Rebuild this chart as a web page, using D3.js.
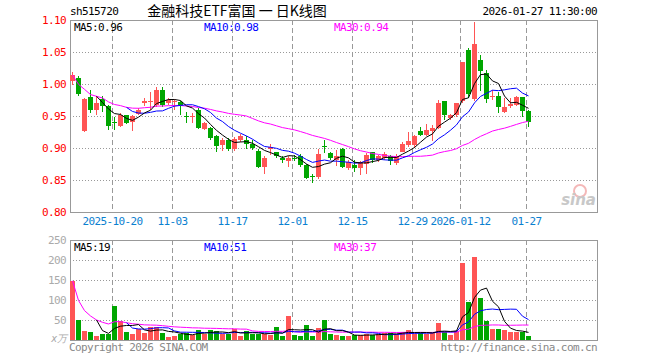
<!DOCTYPE html>
<html>
<head>
<meta charset="utf-8">
<script src="https://cdn.jsdelivr.net/npm/d3@7"></script>
<style>
body { margin: 0; background: #fff; }
text { font-family: "DejaVu Sans Mono", monospace; font-size: 11px; letter-spacing: -0.6px; }
</style>
</head>
<body>
<script>
// trading days shown on the chart
var dates = [
  "2025-10-09","2025-10-10",
  "2025-10-13","2025-10-14","2025-10-15","2025-10-16","2025-10-17",
  "2025-10-20","2025-10-21","2025-10-22","2025-10-23","2025-10-24",
  "2025-10-27","2025-10-28","2025-10-29","2025-10-30","2025-10-31",
  "2025-11-03","2025-11-04","2025-11-05","2025-11-06","2025-11-07",
  "2025-11-10","2025-11-11","2025-11-12","2025-11-13","2025-11-14",
  "2025-11-17","2025-11-18","2025-11-19","2025-11-20","2025-11-21",
  "2025-11-24","2025-11-25","2025-11-26","2025-11-27","2025-11-28",
  "2025-12-01","2025-12-02","2025-12-03","2025-12-04","2025-12-05",
  "2025-12-08","2025-12-09","2025-12-10","2025-12-11","2025-12-12",
  "2025-12-15","2025-12-16","2025-12-17","2025-12-18","2025-12-19",
  "2025-12-22","2025-12-23","2025-12-24","2025-12-25","2025-12-26",
  "2025-12-29","2025-12-30","2025-12-31",
  "2026-01-05","2026-01-06","2026-01-07","2026-01-08","2026-01-09",
  "2026-01-12","2026-01-13","2026-01-14","2026-01-15","2026-01-16",
  "2026-01-19","2026-01-20","2026-01-21","2026-01-22","2026-01-23",
  "2026-01-26","2026-01-27"
];

var opens = [
  1.004,1.010,0.927,0.979,0.959,0.976,0.965,0.941,0.935,0.951,
  0.941,0.953,0.971,0.972,0.967,0.991,0.971,0.972,0.972,0.950,
  0.949,0.959,0.930,0.931,0.918,0.905,0.913,0.898,0.913,0.913,
  0.906,0.896,0.871,0.899,0.893,0.884,0.879,0.885,0.888,0.873,
  0.856,0.855,0.903,0.892,0.881,0.899,0.869,0.874,0.869,0.875,
  0.893,0.881,0.884,0.887,0.876,0.893,0.905,0.905,0.927,0.920,
  0.927,0.931,0.973,0.947,0.952,0.974,1.053,0.976,1.038,1.017,
  0.980,0.981,0.957,0.965,0.967,0.980,0.958
];
var highs = [
  1.018,1.012,0.978,0.991,0.981,0.981,0.967,0.949,0.954,0.952,
  0.952,0.962,0.978,0.988,0.996,0.995,0.978,0.976,0.973,0.957,
  0.954,0.962,0.941,0.933,0.920,0.915,0.916,0.917,0.922,0.919,
  0.913,0.898,0.887,0.906,0.894,0.887,0.887,0.889,0.890,0.875,
  0.860,0.899,0.913,0.894,0.897,0.900,0.882,0.882,0.880,0.892,
  0.894,0.889,0.893,0.889,0.890,0.910,0.925,0.921,0.933,0.938,
  0.936,0.975,0.974,0.953,0.971,1.035,1.056,1.097,1.045,1.022,
  0.991,0.988,0.978,0.978,0.982,0.980,0.959
];
var lows = [
  0.999,0.981,0.925,0.954,0.952,0.957,0.928,0.928,0.933,0.937,
  0.926,0.952,0.965,0.959,0.964,0.964,0.967,0.959,0.952,0.939,
  0.939,0.929,0.928,0.913,0.893,0.896,0.896,0.896,0.910,0.898,
  0.897,0.869,0.860,0.889,0.885,0.876,0.871,0.880,0.871,0.851,
  0.846,0.852,0.892,0.882,0.872,0.869,0.866,0.863,0.858,0.859,
  0.876,0.878,0.882,0.873,0.873,0.893,0.902,0.900,0.918,0.919,
  0.911,0.930,0.944,0.944,0.949,0.971,0.978,0.974,0.989,0.971,
  0.975,0.955,0.955,0.962,0.966,0.949,0.933
];
var closes = [
  1.014,0.985,0.976,0.959,0.970,0.965,0.935,0.940,0.952,0.939,
  0.950,0.960,0.973,0.973,0.991,0.967,0.975,0.973,0.965,0.949,
  0.950,0.931,0.939,0.915,0.903,0.913,0.898,0.914,0.919,0.906,
  0.900,0.871,0.885,0.902,0.887,0.881,0.885,0.883,0.873,0.853,
  0.855,0.891,0.902,0.884,0.888,0.871,0.878,0.868,0.878,0.889,
  0.881,0.887,0.891,0.879,0.888,0.907,0.911,0.919,0.920,0.928,
  0.932,0.971,0.951,0.951,0.971,1.035,0.984,1.062,1.021,0.976,
  0.981,0.964,0.964,0.968,0.980,0.958,0.940
];
// volume, in 万
var volumes = [
  148,50,22.5,20,10,15,15,85,47.5,19,
  15,27,18,32,32,17.5,8,11,16,18,
  12.5,25,14,25,22.5,14,16,27,9,23,
  16,15,14.5,12.5,33,10,60,13,9,37.5,
  9,30,50,15,12.5,10,11,13,12,15,
  12,15,17,17,15,21,25,15,17,15,
  17,43,19,12.5,22.5,193,96,208,104,48,
  28,27,26,19,19,20,11
];

var priceTicks = [0.80, 0.85, 0.90, 0.95, 1.00, 1.05, 1.10];
var volTicks = [50, 100, 150, 200, 250];
var tickDates = ["2025-10-20","2025-11-03","2025-11-17","2025-12-01","2025-12-15","2025-12-29","2026-01-12","2026-01-27"];
var tickLabels = ["2025-10-20","11-03","11-17","12-01","12-15","12-29","2026-01-12","01-27"];

var red = "#ff5555", green = "#00a600";

// moving average; the 30 day line averages what is available at the start
function movingAvg(values, n, partial) {
  return values.map(function(v, i) {
    if (i < n - 1 && !partial) return null;
    var part = values.slice(Math.max(0, i - n + 1), i + 1);
    return d3.mean(part);
  });
}

var left = 70, right = 597;
var main = {top: 20, bottom: 212};
var vol = {top: 240, bottom: 340};

var svg = d3.select("body").append("svg")
    .attr("width", 660)
    .attr("height", 360);

var x = d3.scaleBand()
    .domain(dates)
    .range([69.5, 69.5 + dates.length * 6])
    .paddingInner(1 / 6)
    .paddingOuter(1 / 12);

var y = d3.scaleLinear().domain([0.80, 1.10]).range([main.bottom, main.top]);
var yv = d3.scaleLinear().domain([0, 250]).range([vol.bottom, vol.top]);

function cx(d) { return x(d) + 2.5; }

// horizontal dotted grid
svg.selectAll(".hgrid")
  .data(priceTicks.slice(1, -1))
  .enter().append("line")
    .attr("x1", left).attr("x2", right)
    .attr("y1", function(d) { return Math.round(y(d)) + 0.5; })
    .attr("y2", function(d) { return Math.round(y(d)) + 0.5; })
    .attr("stroke", "#999").attr("stroke-dasharray", "1,2");

svg.selectAll(".vgridh")
  .data(volTicks.slice(0, -1))
  .enter().append("line")
    .attr("x1", left).attr("x2", right)
    .attr("y1", function(d) { return Math.round(yv(d)) + 0.5; })
    .attr("y2", function(d) { return Math.round(yv(d)) + 0.5; })
    .attr("stroke", "#999").attr("stroke-dasharray", "1,2");

// vertical dashed grid at the date ticks
[main, vol].forEach(function(box) {
  svg.selectAll(null)
    .data(tickDates)
    .enter().append("line")
      .attr("x1", function(d) { return x(d) + 0.5; })
      .attr("x2", function(d) { return x(d) + 0.5; })
      .attr("y1", box.top).attr("y2", box.bottom)
      .attr("stroke", "#999").attr("stroke-dasharray", "5,3");
});

// frames
[main, vol].forEach(function(box) {
  svg.append("rect")
    .attr("x", left + 0.5).attr("y", box.top + 0.5)
    .attr("width", right - left).attr("height", box.bottom - box.top)
    .attr("fill", "none").attr("stroke", "#999");
});

// price labels
svg.selectAll(".plabel")
  .data(priceTicks)
  .enter().append("text")
    .attr("x", 66).attr("y", function(d) { return y(d); })
    .attr("dy", "0.35em").attr("text-anchor", "end")
    .attr("fill", "#f00")
    .text(function(d) { return d.toFixed(2); });

// volume labels
svg.selectAll(".vlabel")
  .data(volTicks)
  .enter().append("text")
    .attr("x", 66).attr("y", function(d) { return yv(d); })
    .attr("dy", "0.35em").attr("text-anchor", "end")
    .attr("fill", "#aaa")
    .text(function(d) { return d; });

svg.append("text")
  .attr("x", 66).attr("y", vol.bottom).attr("dy", "0.2em")
  .attr("text-anchor", "end").attr("fill", "#aaa")
  .style("font-style", "italic").style("font-size", "10px")
  .text("x万");

// date labels
svg.selectAll(".dlabel")
  .data(tickDates)
  .enter().append("text")
    .attr("x", function(d) { return x(d) + 0.5; })
    .attr("y", 221).attr("dy", "0.35em")
    .attr("text-anchor", "middle")
    .attr("fill", "#0a80d0")
    .text(function(d, i) { return tickLabels[i]; });

// sina watermark
svg.append("circle")
  .attr("cx", 580).attr("cy", 191).attr("r", 6)
  .attr("fill", "none").attr("stroke", "#f4b8b8").attr("stroke-width", 2);
svg.append("text")
  .attr("x", 596).attr("y", 205).attr("text-anchor", "end")
  .attr("fill", "#c8c8c8")
  .style("font-family", "'DejaVu Sans', sans-serif")
  .style("font-size", "15px").style("font-weight", "bold")
  .style("font-style", "italic").style("letter-spacing", "0")
  .text("sina");

// candles
var idx = d3.range(dates.length);
svg.selectAll(".wick")
  .data(idx)
  .enter().append("line")
    .attr("x1", function(i) { return cx(dates[i]); })
    .attr("x2", function(i) { return cx(dates[i]); })
    .attr("y1", function(i) { return Math.round(y(highs[i])); })
    .attr("y2", function(i) { return Math.round(y(lows[i])); })
    .attr("stroke", function(i) { return closes[i] >= opens[i] ? red : green; });

svg.selectAll(".body")
  .data(idx)
  .enter().append("rect")
    .attr("x", function(i) { return x(dates[i]); })
    .attr("width", x.bandwidth())
    .attr("y", function(i) { return Math.round(y(Math.max(opens[i], closes[i]))); })
    .attr("height", function(i) {
      return Math.max(1, Math.round(y(Math.min(opens[i], closes[i]))) - Math.round(y(Math.max(opens[i], closes[i]))));
    })
    .attr("fill", function(i) { return closes[i] >= opens[i] ? red : green; });

// volume bars
svg.selectAll(".vbar")
  .data(idx)
  .enter().append("rect")
    .attr("x", function(i) { return x(dates[i]); })
    .attr("width", x.bandwidth())
    .attr("y", function(i) { return Math.round(yv(volumes[i])); })
    .attr("height", function(i) { return vol.bottom - Math.round(yv(volumes[i])); })
    .attr("fill", function(i) { return closes[i] >= opens[i] ? red : green; });

// moving averages
var maSpecs = [
  {n: 30, color: "#ff00ff", partial: true},
  {n: 10, color: "#0000ff", partial: false},
  {n: 5, color: "#000000", partial: false}
];

maSpecs.forEach(function(s) {
  s.price = movingAvg(closes, s.n, s.partial);
  s.vol = movingAvg(volumes, s.n, s.partial);

  var linePrice = d3.line()
    .defined(function(v) { return v != null; })
    .x(function(v, i) { return cx(dates[i]); })
    .y(function(v) { return y(v); });
  var lineVol = d3.line()
    .defined(function(v) { return v != null; })
    .x(function(v, i) { return cx(dates[i]); })
    .y(function(v) { return yv(v); });

  svg.append("path").attr("d", linePrice(s.price))
    .attr("fill", "none").attr("stroke", s.color).attr("stroke-width", 1);
  svg.append("path").attr("d", lineVol(s.vol))
    .attr("fill", "none").attr("stroke", s.color).attr("stroke-width", 1);
});

// MA legends
var legendX = {5: 74, 10: 204, 30: 334};
maSpecs.forEach(function(s) {
  var last = dates.length - 1;
  svg.append("text")
    .attr("x", legendX[s.n]).attr("y", 27).attr("dy", "0.35em")
    .attr("fill", s.color)
    .text("MA" + s.n + ":" + s.price[last].toFixed(2));
  svg.append("text")
    .attr("x", legendX[s.n]).attr("y", 247).attr("dy", "0.35em")
    .attr("fill", s.color)
    .text("MA" + s.n + ":" + Math.round(s.vol[last]));
});

// header
svg.append("text").attr("x", 70).attr("y", 11).attr("dy", "0.35em")
  .attr("fill", "#000").text("sh515720");
svg.append("text").attr("x", 237).attr("y", 11).attr("dy", "0.35em")
  .attr("text-anchor", "middle").attr("fill", "#000")
  .style("font-family", "'Noto Sans CJK SC', sans-serif")
  .style("font-size", "14px").style("letter-spacing", "0")
  .style("white-space", "pre")
  .text("金融科技ETF富国 一 日K线图");
svg.append("text").attr("x", 597).attr("y", 11).attr("dy", "0.35em")
  .attr("text-anchor", "end").attr("fill", "#000")
  .text("2026-01-27 11:30:00");

// footer
svg.append("text").attr("x", 69).attr("y", 347).attr("dy", "0.35em")
  .attr("fill", "#888").text("Copyright 2026 SINA.COM");
svg.append("text").attr("x", 597).attr("y", 347).attr("dy", "0.35em")
  .attr("text-anchor", "end").attr("fill", "#888")
  .text("http://finance.sina.com.cn");
</script>
</body>
</html>
